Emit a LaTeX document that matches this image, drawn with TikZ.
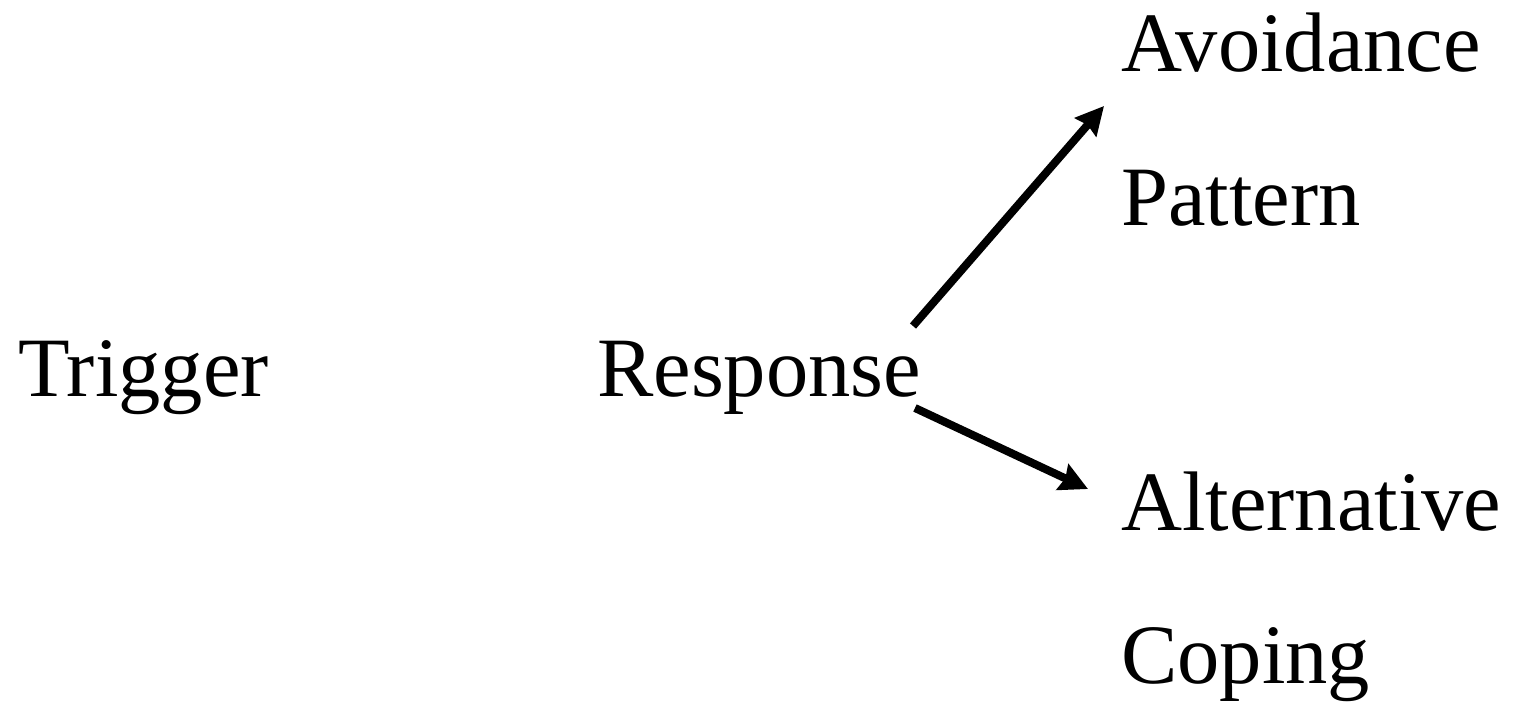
\documentclass[tikz,border=0pt]{standalone}
\usepackage{fontspec}
\setmainfont{Liberation Serif}
\usetikzlibrary{arrows.meta}
\tikzset{
  lbl/.style={anchor=base west, inner sep=0pt, font=\fontsize{84.5}{84.5}\selectfont},
  branch/.style={line width=8pt, -{Stealth[length=28pt, width=28pt, inset=3pt]}}
}
\begin{document}
\begin{tikzpicture}[x=1pt, y=-1pt]
  \useasboundingbox[fill=white] (0,0) rectangle (1517,706);
  \node[lbl] (trig) at (18,396) {Trigger};
  \node[lbl] (resp) at (597,396) {Response};
  \node[lbl] (avoid) at (1121,72) {Avoidance};
  \node[lbl] (patt) at (1121,225) {Pattern};
  \node[lbl] (alt) at (1121,530) {Alternative};
  \node[lbl] (cop) at (1121,683) {Coping};
  \coordinate (up0) at (913,326);
  \coordinate (up1) at (1104,106);
  \coordinate (dn0) at (915,408);
  \coordinate (dn1) at (1088,489);
  \draw[branch] (up0) -- (up1);
  \draw[branch] (dn0) -- (dn1);
\end{tikzpicture}
\end{document}
